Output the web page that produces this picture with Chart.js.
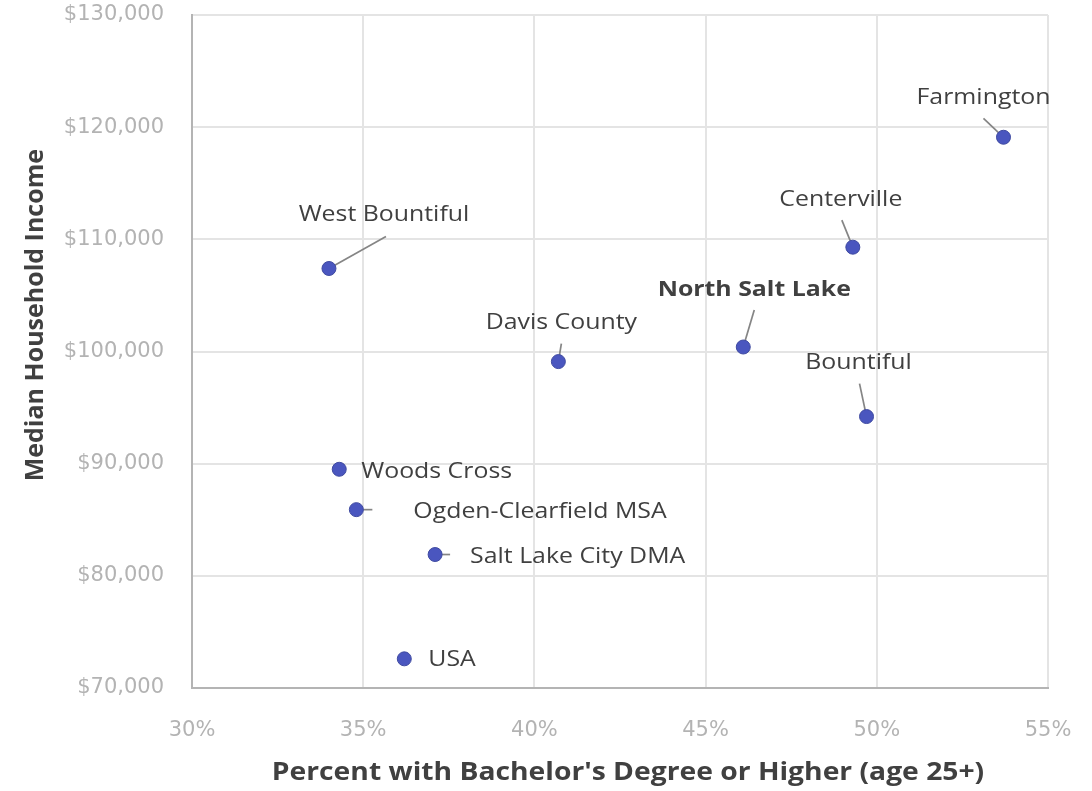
<!DOCTYPE html>
<html>
<head>
<meta charset="utf-8">
<script src="https://cdn.jsdelivr.net/npm/chart.js@4"></script>
<style>
  html, body { margin: 0; padding: 0; background: #ffffff; }
  #wrap { width: 1092px; height: 791px; position: relative; }
</style>
</head>
<body>
<div id="wrap"><canvas id="chart"></canvas></div>
<script>
// Places compared, with share of adults 25+ holding a bachelor's degree (%)
// and median household income ($).
const places = [
  'Farmington', 'Centerville', 'North Salt Lake', 'Bountiful', 'West Bountiful',
  'Davis County', 'Woods Cross', 'Ogden-Clearfield MSA', 'Salt Lake City DMA', 'USA'
];
const bachelorPct = [53.7, 49.3, 46.1, 49.7, 34.0, 40.7, 34.3, 34.8, 37.1, 36.2];
const medianIncome = [119100, 109300, 100400, 94200, 107400, 99100, 89500, 85900, 81900, 72600];

// Axis ranges and tick steps
const xTicks = { min: 30, max: 55, step: 5 };
const yTicks = { min: 70000, max: 130000, step: 10000 };

// Callout placement for each label, relative to its point (pixels):
// label anchor offset, text alignment, and optional leader-line start.
const callouts = [
  { dx: -20, dy: -40, align: 'center', line: [-20, -19] },
  { dx: -12, dy: -47, align: 'center', line: [-11, -27] },
  { dx: 11,  dy: -57, align: 'center', line: [11, -37], bold: true },
  { dx: -8,  dy: -54, align: 'center', line: [-7, -33] },
  { dx: 55,  dy: -54, align: 'center', line: [57, -32] },
  { dx: 3,   dy: -39, align: 'center', line: [3, -18] },
  { dx: 22,  dy: 2,   align: 'left',   line: null },
  { dx: 57,  dy: 2,   align: 'left',   line: [16, 0] },
  { dx: 35,  dy: 2,   align: 'left',   line: [15, 0] },
  { dx: 24,  dy: 1,   align: 'left',   line: null }
];

const FONT = "'Open Sans', 'Noto Sans', sans-serif";
const TICK_FONT = "'DejaVu Sans', sans-serif";
const TEXT = '#404040';
const WIDE = 1.13; // horizontal stretch applied to hand-drawn text

const points = places.map((name, i) => ({ x: bachelorPct[i], y: medianIncome[i] }));

function wideText(ctx, text, x, y, align) {
  ctx.save();
  ctx.translate(x, y);
  ctx.scale(WIDE, 1);
  ctx.textAlign = align;
  ctx.fillText(text, 0, 0);
  ctx.restore();
}

// Leader lines under the points, place names above them
const calloutPlugin = {
  id: 'callouts',
  beforeDatasetsDraw(chart) {
    const ctx = chart.ctx;
    const meta = chart.getDatasetMeta(0);
    ctx.save();
    ctx.strokeStyle = '#858585';
    ctx.lineWidth = 1.7;
    meta.data.forEach((el, i) => {
      const c = callouts[i];
      if (!c.line) return;
      ctx.beginPath();
      ctx.moveTo(el.x + c.line[0], el.y + c.line[1]);
      ctx.lineTo(el.x, el.y);
      ctx.stroke();
    });
    ctx.restore();
  },
  afterDatasetsDraw(chart) {
    const ctx = chart.ctx;
    const meta = chart.getDatasetMeta(0);
    ctx.save();
    ctx.fillStyle = TEXT;
    ctx.textBaseline = 'middle';
    meta.data.forEach((el, i) => {
      const c = callouts[i];
      ctx.font = (c.bold ? 'bold ' : '') + '22px ' + FONT;
      wideText(ctx, places[i], el.x + c.dx, el.y + c.dy, c.align);
    });
    ctx.restore();
  },
  afterDraw(chart) {
    // axis titles
    const ctx = chart.ctx;
    const area = chart.chartArea;
    ctx.save();
    ctx.fillStyle = TEXT;
    ctx.font = 'bold 25px ' + FONT;
    ctx.textBaseline = 'middle';
    wideText(ctx, "Percent with Bachelor's Degree or Higher (age 25+)", (area.left + area.right) / 2 + 8, 773, 'center');
    ctx.translate(36, area.top + (area.bottom - area.top) * 0.446);
    ctx.rotate(-Math.PI / 2);
    ctx.textAlign = 'center';
    ctx.fillText('Median Household Income', 0, 0);
    ctx.restore();
  }
};

new Chart(document.getElementById('chart'), {
  type: 'scatter',
  data: {
    datasets: [{
      label: 'Places',
      data: points,
      backgroundColor: '#4a56bf',
      borderColor: '#3f4aa0',
      borderWidth: 1,
      pointRadius: 7,
      pointHoverRadius: 7
    }]
  },
  options: {
    responsive: true,
    maintainAspectRatio: false,
    animation: false,
    layout: { padding: { top: 15, right: 44, left: 0, bottom: 0 } },
    plugins: {
      legend: { display: false },
      tooltip: { enabled: false },
      title: { display: false }
    },
    scales: {
      x: {
        type: 'linear',
        min: xTicks.min,
        max: xTicks.max,
        afterFit(scale) {
          scale.height = 103;
          scale.paddingLeft = 0;
          scale.paddingRight = 0;
        },
        border: { display: true, color: '#b4b4b4', width: 2 },
        grid: { color: '#e4e4e4', lineWidth: 2, drawTicks: false },
        ticks: {
          stepSize: xTicks.step,
          padding: 30,
          color: '#b3b3b3',
          font: { family: TICK_FONT, size: 21 },
          callback: v => v + '%'
        }
      },
      y: {
        type: 'linear',
        min: yTicks.min,
        max: yTicks.max,
        afterFit(scale) {
          scale.width = 192;
          scale.paddingTop = 0;
          scale.paddingBottom = 0;
        },
        border: { display: true, color: '#b4b4b4', width: 2 },
        grid: { color: '#e4e4e4', lineWidth: 2, drawTicks: false },
        ticks: {
          stepSize: yTicks.step,
          padding: 28,
          color: '#b3b3b3',
          font: { family: TICK_FONT, size: 21 },
          callback: v => '$' + v.toLocaleString('en-US')
        }
      }
    }
  },
  plugins: [calloutPlugin]
});
</script>
</body>
</html>
